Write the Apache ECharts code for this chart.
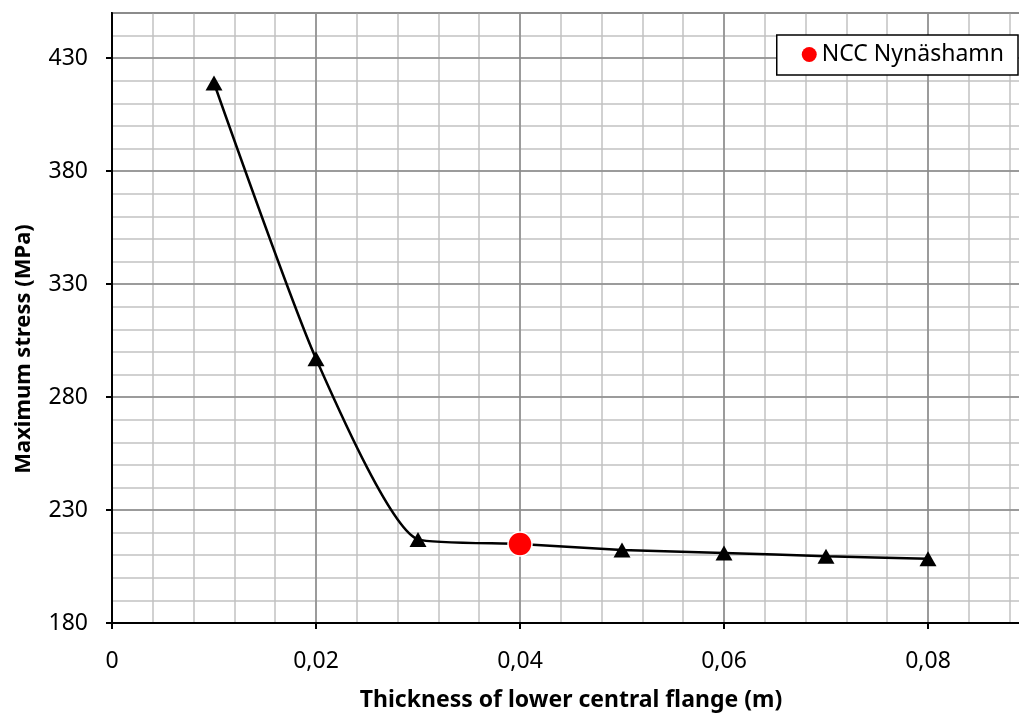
<!DOCTYPE html>
<html>
<head>
<meta charset="utf-8">
<script src="https://cdn.jsdelivr.net/npm/echarts@6/dist/echarts.min.js"></script>
<style>
  html, body { margin: 0; padding: 0; background: #fff; }
  #chart { width: 1019px; height: 713px; }
</style>
</head>
<body>
<div id="chart"></div>
<script>
// thickness (m) and maximum stress (MPa)
const thickness = [0.01, 0.02, 0.03, 0.04, 0.05, 0.06, 0.07, 0.08]
const stress = [419, 297, 217, 215, 212.3, 211, 209.6, 208.4]
const nccPoint = [[0.04, 215]]
const nccName = 'NCC Nynäshamn'

const font = 'Noto Sans'
const fs = 23
let chart = echarts.init(document.getElementById('chart'))

function fmtX(v) {
  if (v === 0) return '0'
  return v.toFixed(2).replace('.', ',')
}

let lineData = []
for (let i = 0; i < thickness.length; i++) {
  lineData.push([thickness[i], stress[i]])
}

const option = {
  animation: false,
  grid: {
    left: 112, top: 13, width: 918, bottom: 90,
    outerBoundsMode: 'none',
    show: true, borderColor: '#000', borderWidth: 2
  },
  legend: {
    data: [nccName],
    right: 1, top: 35,
    backgroundColor: '#fff',
    borderColor: '#000', borderWidth: 1.5,
    padding: [8, 14, 9, 25],
    itemWidth: 15, itemHeight: 15, itemGap: 6,
    itemStyle: { borderWidth: 0 },
    textStyle: { fontFamily: font, fontSize: fs, color: '#000' }
  },
  xAxis: [
    {
      type: 'value', min: 0, max: 0.09, interval: 0.02, z: 2,
      name: 'Thickness of lower central flange (m)',
      nameLocation: 'middle', nameGap: 66,
      nameTextStyle: { fontFamily: font, fontSize: fs, fontWeight: 'bold', color: '#000' },
      axisLine: { lineStyle: { color: '#000', width: 2 } },
      axisTick: { show: true, length: 6, lineStyle: { color: '#000', width: 2 } },
      axisLabel: {
        margin: 27, fontFamily: font, fontSize: fs, color: '#000',
        showMaxLabel: false, formatter: fmtX
      },
      splitLine: { show: true, lineStyle: { color: '#8a8a8a', width: 1.5 } }
    },
    {
      // minor grid every 0.004
      type: 'value', min: 0, max: 0.09, interval: 0.004, z: 1,
      axisLine: { show: false }, axisTick: { show: false }, axisLabel: { show: false },
      splitLine: { show: true, lineStyle: { color: '#c2c2c2', width: 1.5 } }
    }
  ],
  yAxis: [
    {
      type: 'value', min: 180, max: 450, interval: 50, z: 2,
      name: 'Maximum stress (MPa)',
      nameLocation: 'middle', nameGap: 77, nameRotate: 90,
      nameTextStyle: {
        fontFamily: font, fontSize: 22, fontWeight: 'bold', color: '#000',
        padding: [0, 62, 0, 0]
      },
      axisLine: { show: true, lineStyle: { color: '#000', width: 2 } },
      axisTick: { show: true, length: 6, lineStyle: { color: '#000', width: 2 } },
      axisLabel: {
        margin: 24, fontFamily: font, fontSize: fs, color: '#000',
        showMaxLabel: false
      },
      splitLine: { show: true, lineStyle: { color: '#8a8a8a', width: 1.5 } }
    },
    {
      // minor grid every 10 MPa
      type: 'value', min: 180, max: 450, interval: 10, z: 1,
      axisLine: { show: false }, axisTick: { show: false }, axisLabel: { show: false },
      splitLine: { show: true, lineStyle: { color: '#c2c2c2', width: 1.5 } }
    }
  ],
  series: [
    {
      name: 'stress',
      type: 'line',
      data: lineData,
      smooth: 0.2,
      symbol: 'triangle',
      symbolSize: [17, 15],
      itemStyle: { color: '#000' },
      lineStyle: { color: '#000', width: 2.5 },
      z: 3
    },
    {
      name: nccName,
      type: 'scatter',
      data: nccPoint,
      symbol: 'circle',
      symbolSize: 24,
      itemStyle: { color: '#ff0000', opacity: 1, borderColor: '#fff', borderWidth: 1.5 },
      z: 4
    }
  ]
}

chart.setOption(option)
window.onresize = function () {
  chart.resize()
}
</script>
</body>
</html>
